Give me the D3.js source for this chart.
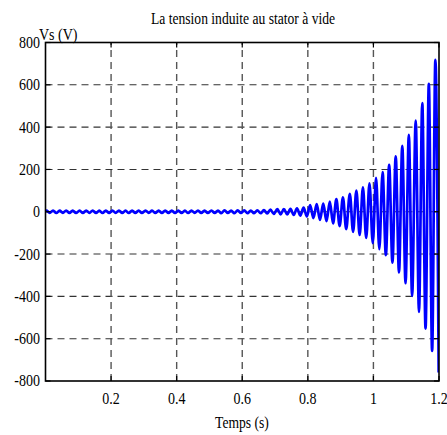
<!DOCTYPE html>
<html><head><meta charset="utf-8">
<script src="https://cdn.jsdelivr.net/npm/d3@7"></script>
<style>body{margin:0;background:#fff;} svg text{font-family:"Liberation Serif",Tinos,"Times New Roman",Times,serif !important;}</style>
</head><body>
<svg id="c" width="447" height="435"></svg>
<script>
const title = "La tension induite au stator à vide";
const xLabel = "Temps (s)";
const yLabel = "Vs (V)";
const xTicks = [0.2, 0.4, 0.6, 0.8, 1, 1.2];
const xTickLabels = ["0.2", "0.4", "0.6", "0.8", "1", "1.2"];
const yTicks = [-800, -600, -400, -200, 0, 200, 400, 600, 800];
const yTickLabels = ["-800", "-600", "-400", "-200", "0", "200", "400", "600", "800"];

// extrema of the signal (peak / trough time and value)
const peakT = [0.003,0.023,0.043,0.063,0.083,0.104,0.124,0.144,0.164,0.184,0.204,0.224,0.244,0.264,0.284,0.305,0.325,0.345,0.365,0.385,0.405,0.425,0.445,0.465,0.485,0.506,0.526,0.546,0.566,0.586,0.606,0.626,0.646,0.666,0.686,0.707,0.727,0.747,0.767,0.787,0.807,0.827,0.847,0.867,0.887,0.907,0.928,0.948,0.968,0.988,1.008,1.028,1.048,1.068,1.088,1.108,1.129,1.149,1.169,1.189];
const peakV = [5,6,5,6,6,5,6,6,5,6,6,6,5,6,6,6,5,6,6,6,6,5,6,6,6,6,6,7,6,7,7,6,7,
               8,10,12,12,14,16,20,32,36,38,48,60,68,85,100,115,134,160,188,222,262,312,364,431,514,604,718];
const troughT = [0.013,0.033,0.053,0.073,0.093,0.114,0.134,0.154,0.174,0.194,0.214,0.234,0.254,0.274,0.294,0.315,0.335,0.355,0.375,0.395,0.415,0.435,0.455,0.475,0.495,0.516,0.536,0.556,0.576,0.596,0.616,0.636,0.656,0.676,0.696,0.717,0.737,0.757,0.777,0.797,0.817,0.837,0.857,0.877,0.897,0.917,0.938,0.958,0.978,0.998,1.018,1.038,1.058,1.078,1.098,1.118,1.139,1.159,1.179,1.199];
const troughV = [-5,-6,-5,-6,-6,-6,-5,-6,-6,-6,-5,-6,-6,-6,-6,-5,-6,-6,-6,-6,-6,-6,-5,-6,-6,-6,-7,-6,-7,-6,-7,-7,-7,
                 -8,-10,-12,-13,-15,-18,-22,-30,-38,-45,-55,-68,-82,-95,-110,-124,-148,-177,-205,-240,-287,-338,-398,-473,-552,-658,-760];

const svg = d3.select("#c");
const L = 45.5, R = 439, T = 42.5, B = 381;
const x = d3.scaleLinear().domain([0, 1.2]).range([L, R]);
const y = d3.scaleLinear().domain([-800, 800]).range([B, T]);

// grid
svg.append("g").selectAll("line").data(yTicks.filter(v => v > -800 && v < 800)).join("line")
  .attr("x1", L).attr("x2", R).attr("y1", d => y(d)).attr("y2", d => y(d))
  .attr("stroke", "#333").attr("stroke-width", 1.1).attr("stroke-dasharray", "7,5");
svg.append("g").selectAll("line").data(xTicks.filter(v => v < 1.2)).join("line")
  .attr("x1", d => x(d)).attr("x2", d => x(d)).attr("y1", B).attr("y2", T)
  .attr("stroke", "#555").attr("stroke-width", 1.4).attr("stroke-dasharray", "7,5");

// signal
const pts = [[0, 0]];
peakT.forEach((t, i) => pts.push([t, peakV[i]]));
troughT.forEach((t, i) => pts.push([t, troughV[i]]));
pts.sort((a, b) => a[0] - b[0]);
svg.append("clipPath").attr("id", "clip").append("rect")
  .attr("x", L).attr("y", T).attr("width", R - L).attr("height", B - T);
svg.append("path").datum(pts)
  .attr("clip-path", "url(#clip)")
  .attr("fill", "none").attr("stroke", "#0000ff").attr("stroke-width", 2.7)
  .attr("stroke-linejoin", "round")
  .attr("d", d3.line().x(d => x(d[0])).y(d => y(d[1])).curve(d3.curveMonotoneX));

// frame
svg.append("rect").attr("x", L).attr("y", T).attr("width", R - L).attr("height", B - T)
  .attr("fill", "none").attr("stroke", "#000").attr("stroke-width", 1.6);

// inward ticks
const tk = 5;
const tg = svg.append("g").attr("stroke", "#000").attr("stroke-width", 1.2);
yTicks.forEach(v => {
  tg.append("line").attr("x1", L).attr("x2", L + tk).attr("y1", y(v)).attr("y2", y(v));
  tg.append("line").attr("x1", R).attr("x2", R - tk).attr("y1", y(v)).attr("y2", y(v));
});
xTicks.forEach(v => {
  tg.append("line").attr("x1", x(v)).attr("x2", x(v)).attr("y1", B).attr("y2", B - tk);
  tg.append("line").attr("x1", x(v)).attr("x2", x(v)).attr("y1", T).attr("y2", T + tk);
});

const sx = 0.85;
function squeeze(sel, cx) { sel.attr("transform", `translate(${cx},0) scale(${sx},1) translate(${-cx},0)`); }

// tick labels
svg.append("g").selectAll("text").data(yTicks).join("text")
  .attr("x", 40).attr("y", d => y(d) + 5.5)
  .attr("text-anchor", "end").style("font-size", "16.5px")
  .attr("transform", `translate(40,0) scale(${sx},1) translate(-40,0)`)
  .text((d, i) => yTickLabels[i]);
svg.append("g").selectAll("text").data(xTicks).join("text")
  .attr("x", d => x(d)).attr("y", 404)
  .attr("text-anchor", "middle").style("font-size", "16.5px")
  .attr("transform", d => `translate(${x(d)},0) scale(${sx},1) translate(${-x(d)},0)`)
  .text((d, i) => xTickLabels[i]);

// titles
squeeze(svg.append("text").attr("x", 243).attr("y", 24).attr("text-anchor", "middle")
  .style("font-size", "16px").text(title), 243);
squeeze(svg.append("text").attr("x", 242).attr("y", 428).attr("text-anchor", "middle")
  .style("font-size", "16px").text(xLabel), 242);
squeeze(svg.append("text").attr("x", 39).attr("y", 40.5).attr("text-anchor", "start")
  .style("font-size", "16.5px").text(yLabel), 39);
</script>
</body></html>
